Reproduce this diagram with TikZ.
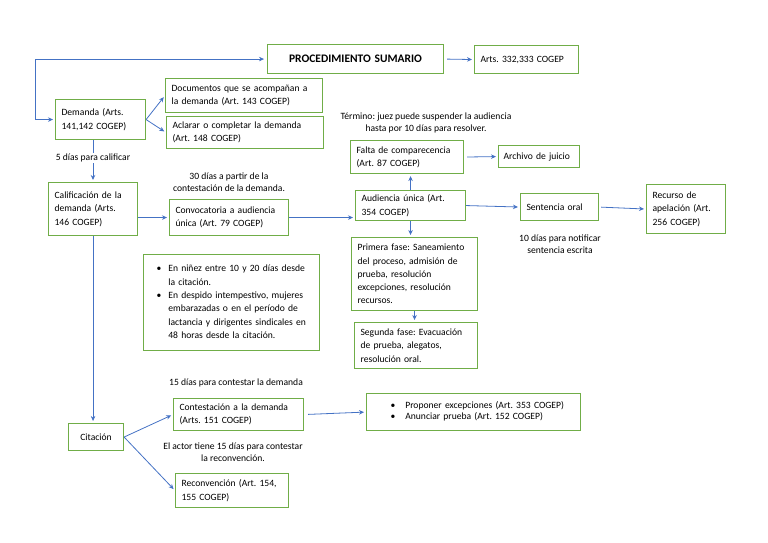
\documentclass[tikz,border=0pt]{standalone}
\usepackage{fontspec}
\setmainfont{Carlito}
\usetikzlibrary{arrows.meta}
\definecolor{verde}{RGB}{112,173,71}
\definecolor{azul}{RGB}{68,114,196}
\frenchspacing

\begin{document}
\begin{tikzpicture}[x=1pt,y=-1pt,
  caja/.style={draw=verde,line width=1.1pt,anchor=north west,align=left,inner xsep=6pt,inner ysep=2pt,font=\fontsize{9.6}{13.3}\selectfont},
  nota/.style={align=center,inner sep=1pt,font=\fontsize{9.6}{12.5}\selectfont},
  flecha/.style={draw=azul,line width=0.8pt,-{Stealth[length=5pt,width=4.5pt]},shorten >=2pt},
  flechas/.style={flecha,{Stealth[length=5pt,width=4.5pt]}-{Stealth[length=5pt,width=4.5pt]},shorten <=3pt},
  linea/.style={draw=azul,line width=0.8pt}]
\useasboundingbox (0,0) rectangle (768,543);
\node[caja,align=center,text width=164pt,minimum height=29pt,font=\fontsize{11.5}{13}\selectfont\bfseries] (proc) at (267,44) {PROCEDIMIENTO SUMARIO};
\node[caja,text width=92pt,minimum height=28pt] (arts) at (474,45) {Arts. 332,333 COGEP};
\node[caja,text width=78pt,minimum height=40pt] (demanda) at (55,99) {Demanda (Arts.\\141,142 COGEP)};
\node[caja,text width=145pt,minimum height=34pt] (docs) at (165,78) {Documentos que se acompañan a\\la demanda (Art. 143 COGEP)};
\node[caja,text width=145pt,minimum height=32pt] (aclarar) at (166,116) {Aclarar o completar la demanda\\(Art. 148 COGEP)};
\node[caja,text width=77pt,minimum height=53pt] (calif) at (48,182) {Calificación de la\\demanda (Arts.\\146 COGEP)};
\node[caja,text width=107pt,minimum height=36pt] (conv) at (169,199) {Convocatoria a audiencia\\única (Art. 79 COGEP)};
\node[caja,text width=101pt,minimum height=33pt] (falta) at (350,140) {Falta de comparecencia\\(Art. 87 COGEP)};
\node[caja,inner xsep=5pt,text width=71pt,minimum height=22pt] (archivo) at (498,145) {Archivo de juicio};
\node[caja,text width=98pt,minimum height=30pt] (aud) at (355,190) {Audiencia única (Art.\\354 COGEP)};
\node[caja,text width=66pt,minimum height=27pt] (sent) at (520,193) {Sentencia oral};
\node[caja,text width=67pt,minimum height=49pt] (recurso) at (646,184) {Recurso de\\apelación (Art.\\256 COGEP)};
\node[caja,text width=114pt,minimum height=73pt] (primera) at (351,237) {Primera fase: Saneamiento\\del proceso, admisión de\\prueba, resolución\\excepciones, resolución\\recursos.};
\node[caja,text width=111pt,minimum height=46pt] (segunda) at (354,322) {Segunda fase: Evacuación\\de prueba, alegatos,\\resolución oral.};
\node[caja,text width=164pt,minimum height=96pt] (plazos) at (143,254) {\hspace*{7pt}\begin{tabular}{@{}l@{\hspace{7pt}}l@{}}
\textbullet & En niñez entre 10 y 20 días desde\\
 & la citación.\\
\textbullet & En despido intempestivo, mujeres\\
 & embarazadas o en el período de\\
 & lactancia y dirigentes sindicales en\\
 & 48 horas desde la citación.
\end{tabular}};
\node[caja,align=center,text width=43pt,minimum height=27pt] (cit) at (68,423) {Citación\\[3pt]};
\node[caja,text width=118pt,minimum height=32pt] (contest) at (173,398) {Contestación a la demanda\\(Arts. 151 COGEP)};
\node[caja,text width=101pt,minimum height=34pt] (reconv) at (175,473) {Reconvención (Art. 154,\\155 COGEP)};
\node[caja,text width=202pt,minimum height=37pt] (excep) at (366,393) {\hspace*{18pt}\renewcommand{\arraystretch}{0.85}\begin{tabular}{@{}l@{\hspace{10pt}}l@{}}
\textbullet & Proponer excepciones (Art. 353 COGEP)\\
\textbullet & Anunciar prueba (Art. 152 COGEP)
\end{tabular}};
\node[nota] (cinco) at (93,158) {5 días para calificar};
\node[nota] (treinta) at (229,182) {30 días a partir de la\\contestación de la demanda.};
\node[nota] (termino) at (426,123) {Término: juez puede suspender la audiencia\\hasta por 10 días para resolver.};
\node[nota] (diez) at (560,244) {10 días para notificar\\sentencia escrita};
\node[nota] (quince) at (236,383) {15 días para contestar la demanda};
\node[nota] (actor) at (233,452) {El actor tiene 15 días para contestar\\la reconvención.};
\coordinate (esq) at (35,58);
\draw[flechas] (proc.west) -- (proc.west -| esq) |- (demanda.west);
\draw[flecha,shorten <=3pt] (proc.east) -- (arts.west);
\draw[flecha] (demanda.east) -- (docs.west);
\draw[flecha] (demanda.east) -- (aclarar.west);
\draw[linea] (demanda.south -| cinco) -- (cinco.north);
\draw[flecha] (cinco.south) -- (cinco.south |- calif.north);
\draw[flecha] (calif.east |- conv.west) -- (conv.west);
\draw[flecha] (conv.east) -- (conv.east -| aud.west);
\draw[flecha] (aud.north) -- (aud.north |- falta.south);
\draw[flecha,shorten <=3pt] (falta.east) -- (archivo.west);
\draw[flecha] (aud.east) -- (sent.west);
\draw[flecha,shorten <=2pt] (sent.east) -- (recurso.west);
\draw[flecha] (aud.south) -- (aud.south |- primera.north);
\draw[flecha] (primera.south) -- (primera.south |- segunda.north);
\draw[flecha] (calif.south) -- (calif.south |- cit.north);
\draw[flecha] (cit.east) -- (contest.west);
\draw[flecha] (cit.east) -- (reconv.west);
\draw[flecha,shorten <=4pt] (contest.east) -- (excep.west);
\end{tikzpicture}
\end{document}
